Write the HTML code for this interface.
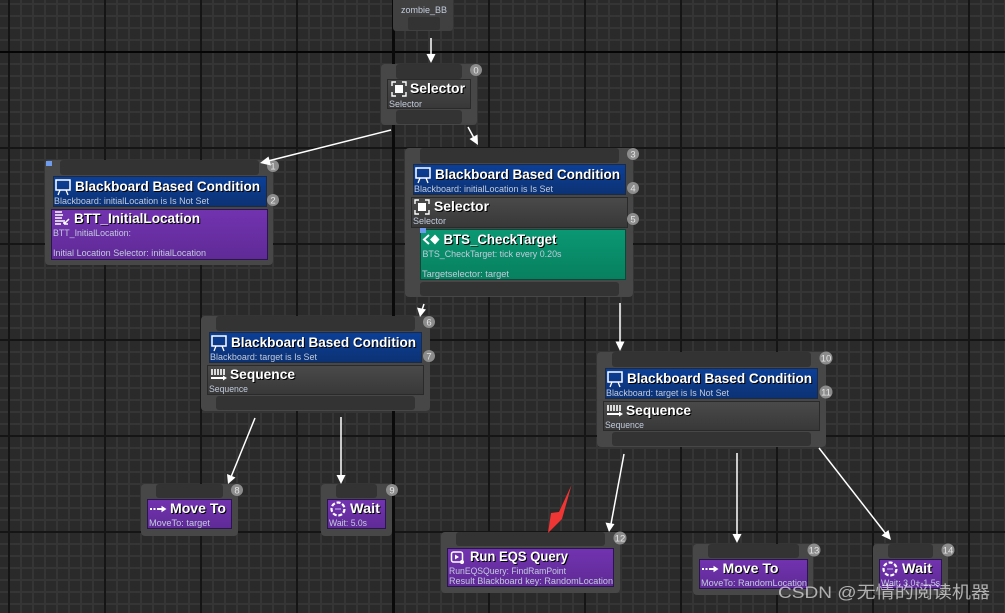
<!DOCTYPE html>
<html><head><meta charset="utf-8"><style>
html,body{margin:0;padding:0;background:#2a2a2a;width:1005px;height:613px;overflow:hidden}
svg{display:block;filter:blur(0.35px)}
text{font-family:"Liberation Sans",sans-serif}
.t{font-size:14px;font-weight:700;fill:#fff;filter:drop-shadow(1px 1px 0 #000)}
.s{font-size:8.8px;fill:#c2cbdc}
.b{font-size:9.500px;fill:#e4e4e4;text-anchor:middle}
.n{fill:#474747}.k{fill:#333333}
.g{fill:url(#gy);stroke:#2a2a2a}
.bl{fill:url(#blu);stroke:#1c2a44}
.p{fill:url(#pur);stroke:#2b1550}
.a{stroke:#fff;stroke-width:1.5;fill:none}
.h{fill:#fff}
.bd{fill:#8c8c8c}
</style></head><body>
<svg width="1005" height="613" viewBox="0 0 1005 613" xmlns="http://www.w3.org/2000/svg">
<defs>
<linearGradient id="gy" x1="0" y1="0" x2="0" y2="1"><stop offset="0" stop-color="#4a4a4a"/><stop offset="1" stop-color="#383838"/></linearGradient>
<linearGradient id="blu" x1="0" y1="0" x2="0" y2="1"><stop offset="0" stop-color="#0b3f98"/><stop offset="1" stop-color="#0c3273"/></linearGradient>
<linearGradient id="pur" x1="0" y1="0" x2="0" y2="1"><stop offset="0" stop-color="#7233b0"/><stop offset="1" stop-color="#5f2a96"/></linearGradient>
<linearGradient id="grn" x1="0" y1="0" x2="0" y2="1"><stop offset="0" stop-color="#0a9873"/><stop offset="1" stop-color="#08805f"/></linearGradient>
<pattern id="minor" width="12" height="12" patternUnits="userSpaceOnUse" x="8" y="3">
<rect width="12" height="12" fill="#2a2a2a"/><rect width="12" height="2" fill="#353535"/><rect width="2" height="12" fill="#353535"/></pattern>
<pattern id="majorV" width="96" height="96" patternUnits="userSpaceOnUse" x="8" y="0">
<rect width="2" height="96" fill="#151515"/></pattern>
<pattern id="majorH" width="96" height="96" patternUnits="userSpaceOnUse" x="0" y="51">
<rect width="96" height="2" fill="#151515"/></pattern>
<g id="ibb"><rect x="1" y="1" width="14" height="10" fill="none" stroke="#fff" stroke-width="1.5"/><path d="M3 16l2-5M13 16l-2-5" stroke="#fff" stroke-width="1.3"/></g>
<g id="isel"><path d="M1 5V1H5M11 1H15V5M15 11V15H11M5 15H1V11" fill="none" stroke="#fff" stroke-width="1.4"/><rect x="4" y="4" width="8" height="8" fill="#fff"/></g>
<g id="iseq"><path d="M2 1V7M5 1V7M8 1V7M11 1V7M14 1V7" stroke="#fff" stroke-width="1.6"/><path d="M1 10H14" stroke="#fff" stroke-width="2"/><path d="M13 7.500L17 10L13 12.500Z" fill="#fff"/></g>
<g id="imove"><path d="M0 5H2M3.500 5H5.500M7 5H13" stroke="#fff" stroke-width="2"/><path d="M11.500 1.800L16.500 5L11.500 8.200Z" fill="#fff"/></g>
<g id="iwait"><circle cx="8" cy="8" r="6.500" fill="none" stroke="#fff" stroke-width="2.200" stroke-dasharray="4 1.800"/><path d="M5 8H11" stroke="#d0c0f0" stroke-width="1"/></g>
</defs>
<rect width="1005" height="613" fill="url(#minor)"/>
<rect width="1005" height="613" fill="url(#majorV)"/>
<rect width="1005" height="613" fill="url(#majorH)"/>
<rect x="0" y="51" width="1005" height="2" fill="#050505"/>
<rect x="392" y="0" width="3" height="613" fill="#0a0a0a"/>

<!-- zombie_BB -->
<rect x="393" y="-8" width="60" height="39" rx="3" fill="#404040"/>
<rect class="k" x="408" y="17" width="32" height="13" rx="2"/>
<text class="s" x="401" y="13" textLength="46" lengthAdjust="spacingAndGlyphs">zombie_BB</text>

<!-- Selector -->
<rect class="n" x="381" y="64" width="96" height="61" rx="4"/>
<rect class="k" x="396" y="64" width="66" height="15" rx="3"/><rect class="k" x="396" y="110" width="66" height="14" rx="3"/>
<rect class="g" x="387.500" y="79.500" width="83" height="29"/>
<use href="#isel" x="391" y="81"/>
<text class="t" x="410" y="93" textLength="55" lengthAdjust="spacingAndGlyphs">Selector</text>
<text class="s" x="389" y="107" textLength="33" lengthAdjust="spacingAndGlyphs">Selector</text>
<circle class="bd" cx="476" cy="70" r="6"/><text class="b" x="476" y="73.500">0</text>

<!-- Node 1 -->
<rect class="n" x="45" y="160" width="228" height="105" rx="4"/>
<rect class="k" x="60" y="160" width="199" height="15" rx="3"/>
<rect class="bl" x="53.500" y="176.500" width="213" height="30"/>
<use href="#ibb" x="55" y="179"/>
<text class="t" x="75" y="191" textLength="185" lengthAdjust="spacingAndGlyphs">Blackboard Based Condition</text>
<text class="s" x="54" y="204" textLength="155" lengthAdjust="spacingAndGlyphs">Blackboard: initialLocation is Is Not Set</text>
<rect class="p" x="51.500" y="209.500" width="216" height="50"/>
<path d="M55 212H62M55 215H63M55 218H62M55 221H63M55 224H61" stroke="#fff" stroke-width="1.500"/>
<path d="M64 224l5-5M64 224v-4M64 224h4" stroke="#fff" stroke-width="1.500" fill="none"/>
<text class="t" x="74" y="223" textLength="126" lengthAdjust="spacingAndGlyphs">BTT_InitialLocation</text>
<text class="s" x="53" y="236" textLength="78" lengthAdjust="spacingAndGlyphs">BTT_InitialLocation:</text>
<text class="s" x="53" y="256" textLength="153" lengthAdjust="spacingAndGlyphs">Initial Location Selector: initialLocation</text>
<rect x="46" y="161" width="6" height="5" fill="#6f9bee"/>
<circle class="bd" cx="273" cy="166" r="6"/><text class="b" x="273" y="169.500">1</text>
<circle class="bd" cx="273" cy="200" r="6"/><text class="b" x="273" y="203.500">2</text>

<!-- Node 3 -->
<rect class="n" x="405" y="148" width="228" height="149" rx="4"/>
<rect class="k" x="420" y="148" width="199" height="15" rx="3"/><rect class="k" x="420" y="282" width="199" height="14" rx="3"/>
<rect class="bl" x="413.500" y="164.500" width="212" height="30"/>
<use href="#ibb" x="415" y="167"/>
<text class="t" x="435" y="179" textLength="185" lengthAdjust="spacingAndGlyphs">Blackboard Based Condition</text>
<text class="s" x="414" y="192" textLength="139" lengthAdjust="spacingAndGlyphs">Blackboard: initialLocation is Is Set</text>
<rect class="g" x="411.500" y="197.500" width="216" height="30"/>
<use href="#isel" x="414" y="199"/>
<text class="t" x="434" y="211" textLength="55" lengthAdjust="spacingAndGlyphs">Selector</text>
<text class="s" x="413" y="224" textLength="33" lengthAdjust="spacingAndGlyphs">Selector</text>
<rect x="420.500" y="229.500" width="205" height="50" fill="url(#grn)" stroke="#0b4a3a"/>
<path d="M429 235l-5 4.500 5 4.500" fill="none" stroke="#fff" stroke-width="2"/><path d="M435 234.500l4.500 5-4.500 5-5-5z" fill="#fff"/>
<text class="t" x="443.500" y="244" textLength="113" lengthAdjust="spacingAndGlyphs">BTS_CheckTarget</text>
<text class="s" x="422.500" y="257" textLength="139" lengthAdjust="spacingAndGlyphs">BTS_CheckTarget: tick every 0.20s</text>
<text class="s" x="422" y="277" textLength="87" lengthAdjust="spacingAndGlyphs">Targetselector: target</text>
<rect x="420" y="228" width="6" height="5" fill="#6f9bee"/>
<circle class="bd" cx="633" cy="154" r="6"/><text class="b" x="633" y="157.500">3</text>
<circle class="bd" cx="633" cy="188" r="6"/><text class="b" x="633" y="191.500">4</text>
<circle class="bd" cx="633" cy="219" r="6"/><text class="b" x="633" y="222.500">5</text>

<!-- Node 6 -->
<rect class="n" x="201" y="316" width="229" height="95" rx="4"/>
<rect class="k" x="216" y="316" width="199" height="15" rx="3"/><rect class="k" x="216" y="396" width="199" height="14" rx="3"/>
<rect class="bl" x="209.500" y="332.500" width="212" height="30"/>
<use href="#ibb" x="211" y="335"/>
<text class="t" x="231" y="347" textLength="185" lengthAdjust="spacingAndGlyphs">Blackboard Based Condition</text>
<text class="s" x="210" y="360" textLength="107" lengthAdjust="spacingAndGlyphs">Blackboard: target is Is Set</text>
<rect class="g" x="207.500" y="365.500" width="216" height="29"/>
<use href="#iseq" x="210" y="368"/>
<text class="t" x="230" y="379" textLength="65" lengthAdjust="spacingAndGlyphs">Sequence</text>
<text class="s" x="209" y="392" textLength="39" lengthAdjust="spacingAndGlyphs">Sequence</text>
<circle class="bd" cx="429" cy="322" r="6"/><text class="b" x="429" y="325.500">6</text>
<circle class="bd" cx="429" cy="356" r="6"/><text class="b" x="429" y="359.500">7</text>

<!-- Node 10 -->
<rect class="n" x="597" y="352" width="229" height="95" rx="4"/>
<rect class="k" x="612" y="352" width="199" height="15" rx="3"/><rect class="k" x="612" y="432" width="199" height="14" rx="3"/>
<rect class="bl" x="605.500" y="368.500" width="212" height="30"/>
<use href="#ibb" x="607" y="371"/>
<text class="t" x="627" y="383" textLength="185" lengthAdjust="spacingAndGlyphs">Blackboard Based Condition</text>
<text class="s" x="606" y="396" textLength="123" lengthAdjust="spacingAndGlyphs">Blackboard: target is Is Not Set</text>
<rect class="g" x="603.500" y="401.500" width="216" height="29"/>
<use href="#iseq" x="606" y="404"/>
<text class="t" x="626" y="415" textLength="65" lengthAdjust="spacingAndGlyphs">Sequence</text>
<text class="s" x="605" y="428" textLength="39" lengthAdjust="spacingAndGlyphs">Sequence</text>
<circle class="bd" cx="826" cy="358" r="6.500"/><text class="b" x="826" y="361.500">10</text>
<circle class="bd" cx="826" cy="392" r="6.500"/><text class="b" x="826" y="395.500">11</text>

<!-- Move To -->
<rect class="n" x="141" y="484" width="97" height="52" rx="4"/>
<rect class="k" x="156" y="484" width="67" height="14" rx="3"/>
<rect class="p" x="147.500" y="499.500" width="84" height="29"/>
<use href="#imove" x="150" y="504"/>
<text class="t" x="170" y="513" textLength="56" lengthAdjust="spacingAndGlyphs">Move To</text>
<text class="s" x="149" y="526" textLength="61" lengthAdjust="spacingAndGlyphs">MoveTo: target</text>
<circle class="bd" cx="237" cy="490" r="6"/><text class="b" x="237" y="493.500">8</text>

<!-- Wait -->
<rect class="n" x="321" y="484" width="71" height="52" rx="4"/>
<rect class="k" x="336" y="484" width="41" height="14" rx="3"/>
<rect class="p" x="327.500" y="499.500" width="58" height="29"/>
<use href="#iwait" x="330" y="501"/>
<text class="t" x="350" y="513" textLength="30" lengthAdjust="spacingAndGlyphs">Wait</text>
<text class="s" x="329" y="526" textLength="38" lengthAdjust="spacingAndGlyphs">Wait: 5.0s</text>
<circle class="bd" cx="392" cy="490" r="6"/><text class="b" x="392" y="493.500">9</text>

<!-- EQS -->
<rect class="n" x="441" y="532" width="179" height="61" rx="4"/>
<rect class="k" x="456" y="532" width="149" height="14" rx="3"/>
<rect class="p" x="447.500" y="548.500" width="166" height="38"/>
<rect x="451.500" y="552" width="11" height="10" rx="2" fill="none" stroke="#fff" stroke-width="1.500"/>
<path d="M455 554.500l4 2.500-4 2.500z" fill="#fff"/><circle cx="462" cy="562" r="2" fill="#fff"/>
<text class="t" x="470" y="561" textLength="98" lengthAdjust="spacingAndGlyphs">Run EQS Query</text>
<text class="s" x="449" y="574" textLength="117" lengthAdjust="spacingAndGlyphs">RunEQSQuery: FindRamPoint</text>
<text class="s" x="449" y="584" textLength="164" lengthAdjust="spacingAndGlyphs">Result Blackboard key: RandomLocation</text>
<circle class="bd" cx="620" cy="538" r="6.500"/><text class="b" x="620" y="541.500">12</text>

<!-- Move To 2 -->
<rect class="n" x="693" y="544" width="120" height="51" rx="4"/>
<rect class="k" x="708" y="544" width="91" height="14" rx="3"/>
<rect class="p" x="699.500" y="559.500" width="108" height="29"/>
<use href="#imove" x="702" y="564"/>
<text class="t" x="722.500" y="573" textLength="56" lengthAdjust="spacingAndGlyphs">Move To</text>
<text class="s" x="701" y="586" textLength="106" lengthAdjust="spacingAndGlyphs">MoveTo: RandomLocation</text>
<circle class="bd" cx="814" cy="550" r="6.500"/><text class="b" x="814" y="553.500">13</text>

<!-- Wait 2 -->
<rect class="n" x="873" y="544" width="75" height="51" rx="4"/>
<rect class="k" x="888" y="544" width="45" height="14" rx="3"/>
<rect class="p" x="879.500" y="559.500" width="62" height="29"/>
<use href="#iwait" x="882" y="561"/>
<text class="t" x="902" y="573" textLength="30" lengthAdjust="spacingAndGlyphs">Wait</text>
<text class="s" x="881" y="586" textLength="59" lengthAdjust="spacingAndGlyphs">Wait: 3.0+-1.5s</text>
<circle class="bd" cx="948" cy="550" r="6.500"/><text class="b" x="948" y="553.500">14</text>

<!-- arrows -->
<path class="a" d="M431 38V56"/><path class="h" d="M431 63L426.500 54H435.500Z"/>
<path class="a" d="M391 130L268 161"/><path class="h" d="M260 163L268.500 156.500L271 165.500Z"/>
<path class="a" d="M468 127L474 138"/><path class="h" d="M478 145L469.500 139L477.500 134.500Z"/>
<path class="a" d="M424 304L422 310"/><path class="h" d="M420 317L417 307.500L426 309.500Z"/>
<path class="a" d="M620 303V344"/><path class="h" d="M620 351L615.500 341.500H624.500Z"/>
<path class="a" d="M255 418L231 477"/><path class="h" d="M228 484L227 474L235.500 477.500Z"/>
<path class="a" d="M341 417V477"/><path class="h" d="M341 484L336.500 475H345.500Z"/>
<path class="a" d="M624 454L611 524"/><path class="h" d="M609 532L605.500 522.500L614.500 524Z"/>
<path class="a" d="M737 453V536"/><path class="h" d="M737 543L732.500 534H741.500Z"/>
<path class="a" d="M819 448L886 534"/><path class="h" d="M891 540L881.500 535.500L888.500 530Z"/>

<!-- red arrow -->
<path d="M571.500 485L562 519L548 533L551 513L559 512Z" fill="#f03535"/>

<!-- watermark -->
<text x="778" y="598" font-size="17" fill="#ffffff" fill-opacity="0.62" textLength="212" lengthAdjust="spacingAndGlyphs" style="font-family:'Liberation Sans','Noto Sans CJK SC',sans-serif">CSDN @无情的阅读机器</text>
</svg>
</body></html>
